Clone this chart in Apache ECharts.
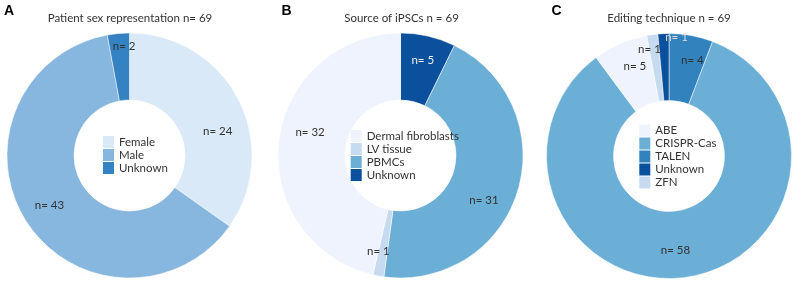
<!DOCTYPE html>
<html>
<head>
<meta charset="utf-8">
<script src="https://cdn.jsdelivr.net/npm/echarts@6/dist/echarts.min.js"></script>
<style>
  body { margin: 0; background: #fff; }
  .panel { position: absolute; top: 0; height: 282px; }
</style>
</head>
<body>
<div id="chartA" class="panel" style="left:0;width:265px"></div>
<div id="chartB" class="panel" style="left:265px;width:265px"></div>
<div id="chartC" class="panel" style="left:530px;width:266px"></div>
<script>
// data
const sexNames = ['Female', 'Male', 'Unknown']
const sexValues = [24, 43, 2]

const sourceLegend = ['Dermal fibroblasts', 'LV tissue', 'PBMCs', 'Unknown']
const sourceNames = ['Unknown', 'PBMCs', 'LV tissue', 'Dermal fibroblasts']   // clockwise from top
const sourceValues = [5, 31, 1, 32]

const editLegend = ['ABE', 'CRISPR-Cas', 'TALEN', 'Unknown', 'ZFN']
const editNames = ['TALEN', 'CRISPR-Cas', 'ABE', 'ZFN', 'Unknown']   // clockwise from top
const editValues = [4, 58, 5, 1, 1]

const FONT = 'Lato, "Noto Sans", sans-serif'

const makeChart = (el, opt) => {
  const chart = echarts.init(document.getElementById(el), null, { renderer: 'canvas' })
  const { letter, letterX, title, titleX, names, values, colors, legendNames, legendLeft, legendTop,
    center, labelColors, nudges } = opt
  chart.setOption({
    animation: false,
    graphic: [
      { type: 'text', x: letterX, y: 4, style: { text: letter, font: 'bold 14px "Liberation Sans", Arial, sans-serif', fill: '#000' } },
      { type: 'text', x: titleX, y: 18, style: { text: title, font: '11.5px ' + FONT, fill: '#333', align: 'center', verticalAlign: 'middle' } }
    ],
    legend: {
      orient: 'vertical',
      left: legendLeft,
      top: legendTop,
      data: legendNames,
      icon: 'rect',
      itemWidth: 11,
      itemHeight: 12,
      itemGap: 1,
      padding: 0,
      itemStyle: { borderWidth: 0 },
      textStyle: { fontFamily: FONT, fontSize: 11.5, color: '#333' },
      selectedMode: false
    },
    series: [
      {
        type: 'pie',
        center: center,
        radius: [55.5, 122.5],
        startAngle: 90,
        clockwise: true,
        avoidLabelOverlap: false,
        itemStyle: { borderColor: '#fff', borderWidth: 0.5 },
        label: {
          show: true,
          position: 'inside',
          formatter: 'n= {c}',
          fontFamily: FONT,
          fontSize: 11.5
        },
        labelLayout: (p) => ({ dx: nudges[p.dataIndex][0], dy: nudges[p.dataIndex][1] }),
        emphasis: { disabled: true },
        data: names.map((n, i) => ({
          name: n,
          value: values[i],
          itemStyle: { color: colors[n] },
          label: { color: labelColors[i] }
        }))
      }
    ]
  })
}

makeChart('chartA', {
  letter: 'A', letterX: 4,
  title: 'Patient sex representation n= 69', titleX: 130,
  names: sexNames, values: sexValues, legendNames: sexNames,
  colors: { Female: '#d9e9f8', Male: '#87b6de', Unknown: '#3482c1' },
  labelColors: ['#333', '#333', '#333'],
  nudges: [[6.5, 18.5], [-2.5, 0.5], [3, -18]],
  legendLeft: 103, legendTop: 136,
  center: [129.5, 155.5]
})

makeChart('chartB', {
  letter: 'B', letterX: 16.5,
  title: 'Source of iPSCs n = 69', titleX: 136.5,
  names: sourceNames, values: sourceValues, legendNames: sourceLegend,
  colors: { 'Dermal fibroblasts': '#eef3fd', 'LV tissue': '#c6dbef', PBMCs: '#6baed6', Unknown: '#0b509c' },
  labelColors: ['#eee', '#333', '#333', '#333'],
  nudges: [[1.5, -6], [-4.5, 17.5], [-5.5, 5], [1, -12.5]],
  legendLeft: 85.7, legendTop: 130,
  center: [135.5, 155.5]
})

makeChart('chartC', {
  letter: 'C', letterX: 21.5,
  title: 'Editing technique n = 69', titleX: 139,
  names: editNames, values: editValues, legendNames: editLegend,
  colors: { ABE: '#eef3fd', 'CRISPR-Cas': '#6baed6', TALEN: '#3182bd', Unknown: '#0b509c', ZFN: '#c6dbef' },
  labelColors: ['#333', '#333', '#333', '#333', '#ddd'],
  nudges: [[6.7, -5.2], [-6, 3], [2.5, -5.4], [-7, -16], [11.7, -27]],
  legendLeft: 109.3, legendTop: 124.5,
  center: [139, 156]
})
</script>
</body>
</html>
